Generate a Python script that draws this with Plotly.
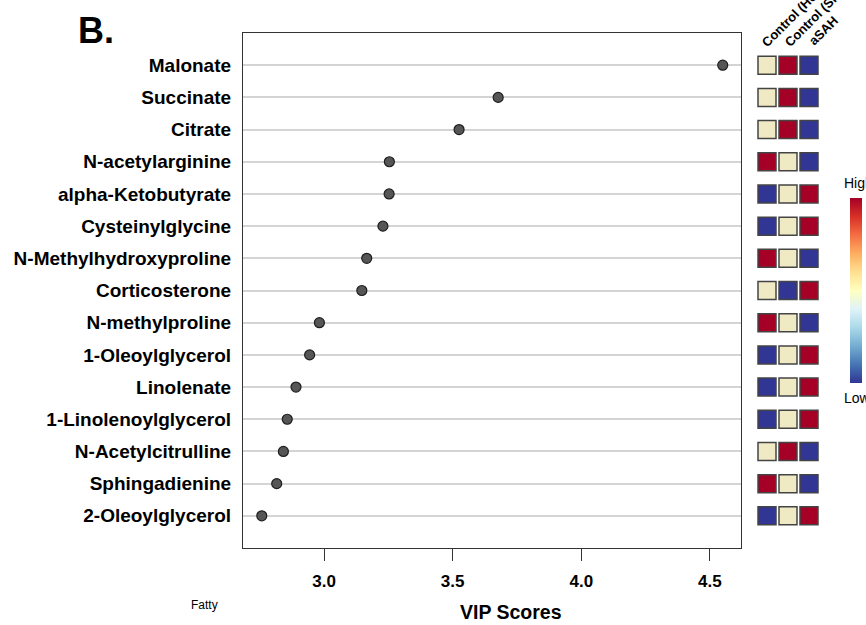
import plotly.graph_objects as go

W, H = 866, 625

metabolites = [
    "Malonate", "Succinate", "Citrate", "N-acetylarginine", "alpha-Ketobutyrate",
    "Cysteinylglycine", "N-Methylhydroxyproline", "Corticosterone", "N-methylproline",
    "1-Oleoylglycerol", "Linolenate", "1-Linolenoylglycerol", "N-Acetylcitrulline",
    "Sphingadienine", "2-Oleoylglycerol",
]
vip_scores = [4.550, 3.677, 3.525, 3.254, 3.253, 3.229, 3.166, 3.147, 2.982,
              2.944, 2.891, 2.857, 2.842, 2.816, 2.758]

groups = ["Control (Healthy)", "Control (Sick)", "aSAH"]
# relative abundance per group: -1 low, 0 mid, 1 high
level_healthy = [0, 0, 0, 1, -1, -1, 1, 0, 1, -1, -1, -1, 0, 1, -1]
level_sick = [1, 1, 1, 0, 0, 0, 0, -1, 0, 0, 0, 0, 1, 0, 0]
level_asah = [-1, -1, -1, -1, 1, 1, -1, 1, -1, 1, 1, 1, -1, -1, 1]

x_ticks = [3.0, 3.5, 4.0, 4.5]
x_ticktext = ["3.0", "3.5", "4.0", "4.5"]

FONT = "Liberation Sans, Arial, sans-serif"


def px_x(p):
    return p / W


def px_y(p):
    return 1 - p / H


fig = go.Figure()

fig.add_trace(go.Scatter(
    x=vip_scores, y=metabolites, mode="markers",
    marker=dict(size=10, color="#565656", line=dict(color="#1e1e1e", width=1.2)),
    xaxis="x", yaxis="y", showlegend=False, hoverinfo="x+y",
))

# heatmap squares beside the dot plot
hx, hy, hz = [], [], []
for levels, g in zip([level_healthy, level_sick, level_asah], groups):
    for m, v in zip(metabolites, levels):
        hx.append(g)
        hy.append(m)
        hz.append(v)

fig.add_trace(go.Scatter(
    x=hx, y=hy, mode="markers",
    marker=dict(symbol="square", size=18, color=hz, cmin=-1, cmax=1,
                colorscale=[[0, "#313695"], [0.5, "#EFE9C4"], [1, "#A50026"]],
                line=dict(color="#444444", width=1.5), showscale=False),
    xaxis="x2", yaxis="y2", showlegend=False, hoverinfo="x+y",
))

# colour key
fig.add_trace(go.Scatter(
    x=[None], y=[None], mode="markers", xaxis="x2", yaxis="y2",
    marker=dict(color=[-1, 1], cmin=-1, cmax=1, colorscale="RdYlBu", reversescale=True,
                showscale=True,
                colorbar=dict(x=px_x(850), xanchor="left", y=px_y(290.5), yanchor="middle",
                              thickness=12, lenmode="pixels", len=185,
                              xpad=0, ypad=0, outlinewidth=0, showticklabels=False,
                              ticks="")),
    showlegend=False, hoverinfo="skip",
))

row_range = [len(metabolites), -1]

# rotated group labels above the heatmap columns (baseline start points)
label_starts = [(765, 50), (788, 50), (812, 48)]
group_labels = [
    dict(text=f"<b>{g}</b>", x=px_x(sx - 9), y=px_y(sy + 3), xref="paper", yref="paper",
         xanchor="left", yanchor="bottom", textangle=-45, showarrow=False,
         font=dict(size=13, family=FONT))
    for g, (sx, sy) in zip(groups, label_starts)
]

fig.update_layout(
    width=W, height=H,
    margin=dict(l=0, r=0, t=0, b=0),
    paper_bgcolor="white", plot_bgcolor="white",
    font=dict(family=FONT, color="black"),
    xaxis=dict(
        domain=[px_x(243), px_x(741)], range=[2.685, 4.621],
        tickvals=x_ticks, ticktext=x_ticktext,
        ticks="outside", ticklen=12, tickwidth=1, tickcolor="#333",
        ticklabelstandoff=5,
        tickfont=dict(size=17, family=FONT, weight="bold"),
        showgrid=False, zeroline=False,
        showline=True, mirror=True, linecolor="#333", linewidth=1.2,
        automargin=False,
    ),
    yaxis=dict(
        domain=[px_y(548), px_y(33)], range=row_range,
        type="category", categoryorder="array", categoryarray=metabolites,
        ticks="", ticklabelstandoff=7,
        tickfont=dict(size=19, family=FONT, weight="bold"),
        showgrid=True, gridcolor="#d4d4d4", gridwidth=1.5,
        zeroline=False, showline=True, mirror=True, linecolor="#333", linewidth=1.2,
        automargin=False,
    ),
    xaxis2=dict(
        domain=[px_x(756.5), px_x(819.5)], anchor="y2",
        type="category", categoryorder="array", categoryarray=groups,
        range=[-0.5, 2.5], visible=False,
    ),
    yaxis2=dict(
        domain=[px_y(548), px_y(33)], anchor="x2", range=row_range,
        type="category", categoryorder="array", categoryarray=metabolites,
        visible=False,
    ),
    annotations=[
        dict(text="<b>B.</b>", x=px_x(96), y=px_y(30), xref="paper", yref="paper",
             xanchor="center", yanchor="middle",
             showarrow=False, font=dict(size=36, family=FONT)),
        dict(text="<b>VIP Scores</b>", x=px_x(511), y=px_y(612), xref="paper", yref="paper",
             xanchor="center", yanchor="middle",
             showarrow=False, font=dict(size=19.5, family=FONT)),
        dict(text="Fatty", x=px_x(204), y=px_y(605), xref="paper", yref="paper",
             xanchor="center", yanchor="middle",
             showarrow=False, font=dict(size=12, family=FONT)),
        dict(text="High", x=px_x(842), y=px_y(183), xref="paper", yref="paper",
             xanchor="left", yanchor="middle", showarrow=False,
             font=dict(size=14, family=FONT)),
        dict(text="Low", x=px_x(842), y=px_y(398), xref="paper", yref="paper",
             xanchor="left", yanchor="middle", showarrow=False,
             font=dict(size=14, family=FONT)),
    ] + group_labels,
)

fig.write_html("out.html")
